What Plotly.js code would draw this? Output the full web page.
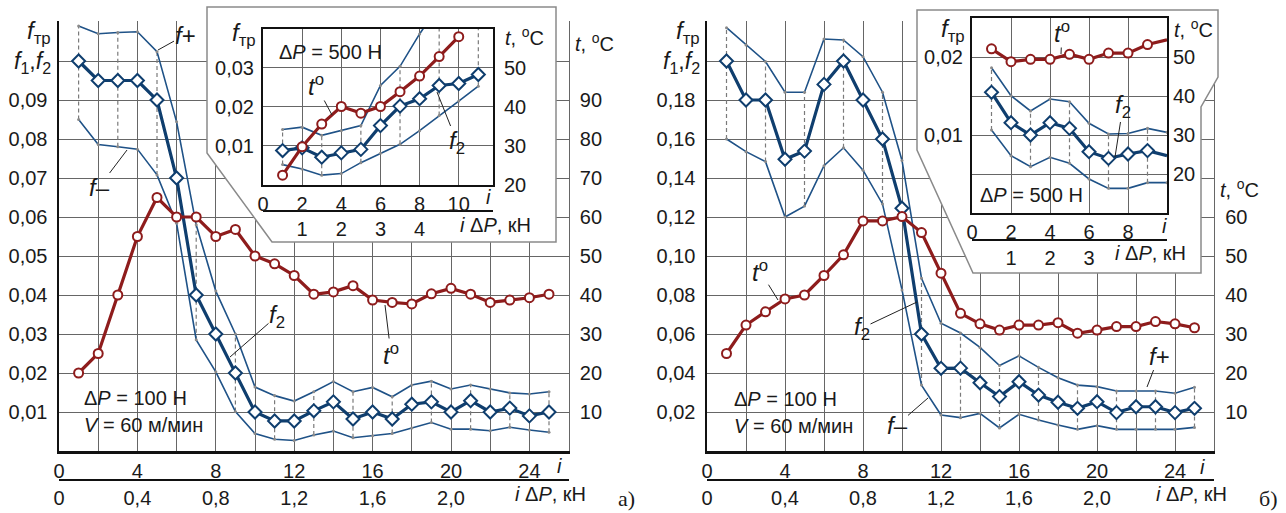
<!DOCTYPE html>
<html><head><meta charset="utf-8">
<script src="https://cdn.plot.ly/plotly-3.0.1.min.js"></script>
<style>html,body{margin:0;padding:0;background:#fff}#chart{width:1286px;height:513px}</style>
</head><body><div id="chart"></div>
<script>
// ---------------- DATA ----------------
// main panels: step number i
const iMain = [1,2,3,4,5,6,7,8,9,10,11,12,13,14,15,16,17,18,19,20,21,22,23,24,25];
// panel а) ΔP = 100 Н
const aF2    = [0.100,0.095,0.095,0.095,0.090,0.070,0.040,0.030,0.020,0.010,0.0077,0.0077,0.0103,0.0126,0.0082,0.0100,0.0082,0.0120,0.0126,0.0100,0.0129,0.0100,0.0110,0.0090,0.0100];
const aFplus = [0.109,0.107,0.1073,0.1075,0.1024,0.0844,0.058,0.041,0.030,0.0164,0.0142,0.0128,0.0152,0.0178,0.0152,0.0163,0.0139,0.0169,0.0179,0.0159,0.0169,0.0159,0.0149,0.0146,0.0152];
const aFminus= [0.085,0.0786,0.078,0.0774,0.0708,0.0584,0.0285,0.0203,0.0101,0.0045,0.0030,0.0027,0.0041,0.0051,0.0034,0.0039,0.0045,0.0059,0.0073,0.0056,0.0056,0.0052,0.0061,0.0054,0.0048];
const aT     = [20,25,40,55,65,60,60,55,56.8,50,48,45,40.2,40.8,42.4,38.7,38.1,37.7,40.3,41.7,40.2,38.1,38.7,39.3,40.2];
// panel б) ΔP = 100 Н
const bF2    = [0.200,0.180,0.180,0.1496,0.1538,0.188,0.200,0.180,0.160,0.1245,0.060,0.0424,0.0425,0.035,0.0279,0.0355,0.0287,0.025,0.0219,0.0253,0.0197,0.0227,0.0227,0.0197,0.0219];
const bFplus = [0.2171,0.2082,0.1997,0.184,0.184,0.2113,0.2108,0.2022,0.184,0.149,0.0886,0.0655,0.0605,0.0531,0.0438,0.0488,0.0429,0.0376,0.0338,0.033,0.0308,0.0308,0.0308,0.0296,0.0327];
const bFminus= [0.160,0.1535,0.1484,0.120,0.1256,0.1463,0.1555,0.144,0.1267,0.0826,0.0338,0.0185,0.0171,0.0193,0.0118,0.0188,0.0159,0.0133,0.0111,0.013,0.0111,0.0111,0.0111,0.0111,0.0121];
const bT     = [25,32.3,35.7,39,40,45,50.3,59,59,60.1,56,45.6,35.3,32.6,31,32.3,32.3,32.9,30.2,31,31.9,31.9,33.2,32.6,31.6];
// inset а) ΔP = 500 Н
const iInA   = [1,2,3,4,5,6,7,8,9,10,11];
const iaF2    = [0.0087,0.0094,0.0070,0.0081,0.0090,0.0151,0.0201,0.0220,0.0254,0.0259,0.0282];
const iaFplus = [0.0141,0.0147,0.0126,0.0138,0.0151,0.0254,0.0303,0.0386,0.046,0.051,0.056];
const iaFminus= [0.0051,0.0040,0.0024,0.0028,0.0056,0.0080,0.0103,0.0138,0.0177,0.0214,0.0252];
const iInAt  = [1,2,3,4,5,6,7,8,9,10];
const iaT     = [22.4,29.7,35.5,40,38.3,40,43.8,47.8,52.8,57.9];
// inset б) ΔP = 500 Н
const iInB   = [1,2,3,4,5,6,7,8,9,10];
const ibF2    = [0.01547,0.01158,0.0100,0.01158,0.01085,0.00786,0.0070,0.00756,0.0080,0.00735];
const ibFplus = [0.01863,0.01504,0.01308,0.01462,0.01427,0.0115,0.01013,0.0102,0.01085,0.01034];
const ibFminus= [0.01064,0.00735,0.00594,0.00714,0.00637,0.00436,0.00316,0.00316,0.00389,0.00389];
const ibT     = [52.1,48.8,49.4,49.4,50.7,49.4,51.0,51.0,53.2,54.4];

// tick labels
const mainXVals = [0,4,8,12,16,20,24];
const mainXText = ["0","4","8","12","16","20","24"];
const kNVals = [0,0.4,0.8,1.2,1.6,2.0];
const kNText = ["0","0,4","0,8","1,2","1,6","2,0"];
const aYVals = [0.01,0.02,0.03,0.04,0.05,0.06,0.07,0.08,0.09];
const aYText = ["0,01","0,02","0,03","0,04","0,05","0,06","0,07","0,08","0,09"];
const bYVals = [0.02,0.04,0.06,0.08,0.10,0.12,0.14,0.16,0.18];
const bYText = ["0,02","0,04","0,06","0,08","0,10","0,12","0,14","0,16","0,18"];
const aTVals = [10,20,30,40,50,60,70,80,90];
const bTVals = [10,20,30,40,50,60];
const insAXVals = [0,2,4,6,8,10];
const insAYVals = [0.01,0.02,0.03];
const insAYText = ["0,01","0,02","0,03"];
const insTVals = [20,30,40,50];
const insAkN = [1,2,3,4];
const insBXVals = [0,2,4,6,8];
const insBYVals = [0.01,0.02];
const insBYText = ["0,01","0,02"];
const insBkN = [1,2,3];

// ---------------- STYLE ----------------
const W = 1286, H = 513;
const PX = x => x / W, PY = y => 1 - y / H;
const GRID = '#666666', BLUE = '#0f3e6e', BLUE2 = '#1f5287', RED = '#8e1c1c', INK = '#1a1a1a';
const FONT = 'Liberation Sans, Arial, sans-serif';

function dashPairs(idx, lo, hi) {
  const xs = [], ys = [];
  idx.forEach((v, k) => {
    if (v % 2 === 1 && lo[k] != null && hi[k] != null) { xs.push(v, v, null); ys.push(lo[k], hi[k], null); }
  });
  return {xs, ys};
}

function panel(xa, ya, ya2, idx, fp, fm, f2, tIdx, t, f2Sizes, tSizes) {
  const d = dashPairs(idx, fm, fp);
  const base = {type: 'scatter', xaxis: xa, hoverinfo: 'skip', showlegend: false, cliponaxis: true};
  return [
    Object.assign({}, base, {yaxis: ya, x: d.xs, y: d.ys, mode: 'lines', line: {color: '#7a7a7a', width: 1.2, dash: '4px,3px'}}),
    Object.assign({}, base, {yaxis: ya, x: idx, y: fp, mode: 'lines+markers', line: {color: BLUE2, width: 1.6}, marker: {size: 3, color: '#8a8a8a', opacity: 1}}),
    Object.assign({}, base, {yaxis: ya, x: idx, y: fm, mode: 'lines+markers', line: {color: BLUE2, width: 1.6}, marker: {size: 3, color: '#8a8a8a', opacity: 1}}),
    Object.assign({}, base, {yaxis: ya, x: idx, y: f2, mode: 'lines+markers', line: {color: BLUE, width: 3.2},
      marker: {symbol: 'diamond', size: f2Sizes || 10, opacity: 1, color: '#fff', line: {color: BLUE, width: 2}}}),
    Object.assign({}, base, {yaxis: ya2, x: tIdx, y: t, mode: 'lines+markers', line: {color: RED, width: 3.2},
      marker: {symbol: 'circle', size: tSizes || 9, opacity: 1, color: '#fff', line: {color: RED, width: 2}}})
  ];
}

const ibF2Sizes = ibF2.map((_, k) => k === ibF2.length - 1 ? 0 : 10);
const ibTSizes = ibT.map((_, k) => k === ibT.length - 1 ? 0 : 9);

const dummy = (xa, ya) => ({type: 'scatter', xaxis: xa, yaxis: ya, x: [0], y: [null], mode: 'markers', hoverinfo: 'skip', showlegend: false});

const traces = [].concat(
  panel('x', 'y', 'y2', iMain, aFplus, aFminus, aF2, iMain, aT),
  [dummy('x2', 'y')],
  panel('x3', 'y3', 'y4', iMain, bFplus, bFminus, bF2, iMain, bT),
  [dummy('x4', 'y3')],
  [dummy('x5', 'y5')],
  panel('x6', 'y6', 'y7', iInA, iaFplus, iaFminus, iaF2, iInAt, iaT),
  [dummy('x7', 'y6')],
  panel('x8', 'y8', 'y9', iInB, ibFplus, ibFminus, ibF2, iInB, ibT, ibF2Sizes, ibTSizes),
  [dummy('x9', 'y8')]
);

const tf = {family: FONT, size: 20, color: INK};
const minorGrid = step => ({tick0: 0, dtick: step, showgrid: true, gridcolor: GRID, gridwidth: 1, ticks: ''});
function mainX(d0, d1, anchor) {
  return {domain: [PX(d0), PX(d1)], range: [0, 26], anchor, tickvals: mainXVals, ticktext: mainXText,
    showgrid: true, gridcolor: GRID, gridwidth: 1, minor: minorGrid(2), showline: true, linecolor: '#111', linewidth: 2.5,
    zeroline: false, ticks: '', tickfont: tf, fixedrange: true};
}
function mainY(top, rng, vals, text, anchor, step) {
  return {domain: [PY(451), PY(top)], range: rng, anchor, tickvals: vals, ticktext: text,
    showgrid: true, gridcolor: GRID, gridwidth: 1, minor: minorGrid(step), showline: true, linecolor: '#111', linewidth: 2.5,
    zeroline: false, ticks: '', tickfont: tf, ticklabelstandoff: 5, fixedrange: true};
}
function tAxis(over, anchor, rng, vals, line, standoff) {
  return {overlaying: over, anchor, side: 'right', range: rng, tickvals: vals, ticktext: vals.map(String),
    showgrid: false, zeroline: false, showline: line, linecolor: GRID, linewidth: 1.2, ticks: '',
    tickfont: tf, ticklabelstandoff: standoff, fixedrange: true};
}
function kNAxis(over, pos, rng, vals, text) {
  return {overlaying: over, anchor: 'free', position: PY(pos), side: 'bottom', range: rng, tickvals: vals, ticktext: text,
    showgrid: false, zeroline: false, showline: true, linecolor: '#111', linewidth: 2.2, ticks: '',
    tickfont: tf, fixedrange: true};
}
function insX(d0, d1, anchor, rng, vals) {
  return {domain: [PX(d0), PX(d1)], range: rng, anchor, tickvals: vals, ticktext: vals.map(String),
    showgrid: true, gridcolor: GRID, gridwidth: 1, showline: true, mirror: true, linecolor: '#111', linewidth: 2,
    zeroline: false, ticks: '', tickfont: tf, fixedrange: true};
}
function insY(b, t, anchor, rng, vals, text, step) {
  const ax = {domain: [PY(b), PY(t)], range: rng, anchor, tickvals: vals, ticktext: text,
    showgrid: true, gridcolor: GRID, gridwidth: 1, showline: true, mirror: true, linecolor: '#111', linewidth: 2,
    zeroline: false, ticks: '', tickfont: tf, ticklabelstandoff: 3, fixedrange: true};
  if (step) ax.minor = minorGrid(step);
  return ax;
}

// annotations
const anns = [];
const BIG = {family: FONT, size: 24, color: INK};
function txt(text, x, y, xanchor, opts) {
  anns.push(Object.assign({text, x: PX(x), y: PY(y), xref: 'paper', yref: 'paper', xanchor: xanchor || 'center',
    yanchor: 'middle', showarrow: false, font: {family: FONT, size: 20, color: INK}}, opts || {}));
}
function lead(text, px, py, tx, ty) {
  anns.push({text, x: PX(px), y: PY(py), xref: 'paper', yref: 'paper', showarrow: true, arrowhead: 0,
    arrowwidth: 1, arrowcolor: '#222', ax: tx - px, ay: ty - py, standoff: 0, borderpad: 0,
    font: BIG});
}
const F = '<i>f</i>';
const FTR = '<i>f</i><sub>тр</sub>';
const F12 = '<i>f</i><sub>1</sub>,<i>f</i><sub>2</sub>';
const TC = '<i>t</i>, <sup>o</sup>C';
const TO = '<i>t</i><sup>o</sup>';
const KN = '<i>i</i> Δ<i>P</i>, кН';
// panel a
txt(FTR, 53, 32, 'right', {font: BIG});
txt(F12, 53, 62, 'right', {font: {family: FONT, size: 23, color: INK}});
txt(TC, 573, 43, 'left');
txt('<i>i</i>', 559, 466);
txt(KN, 588, 494, 'right');
txt('Δ<i>P</i> = 100 Н', 82, 398, 'left');
txt('<i>V</i> = 60 м/мин', 82, 425, 'left');
lead(F + '+', 158, 50, 185, 35);
lead(F + '–', 127, 150, 99, 187);
lead(F + '<sub>2</sub>', 230, 357, 277, 316);
lead(TO, 385, 305, 391, 354);
txt('а)', 626, 498, 'center', {font: {family: 'Liberation Serif, serif', size: 22, color: INK}});
// inset a
txt(FTR, 258, 34, 'right', {font: BIG});
txt(TC, 503, 36, 'left');
txt('<i>i</i>', 488, 197);
txt(KN, 533, 225, 'right');
txt('Δ<i>P</i> = 500 Н', 277, 52, 'left');
lead(TO, 332, 115, 316, 85);
lead(F + '<sub>2</sub>', 437, 92, 457, 142);
// panel b
txt(FTR, 702, 32, 'right', {font: BIG});
txt(F12, 702, 62, 'right', {font: {family: FONT, size: 23, color: INK}});
txt(TC, 1218, 188, 'left');
txt('<i>i</i>', 1202, 467);
txt(KN, 1229, 494, 'right');
txt('Δ<i>P</i> = 100 Н', 732, 399, 'left');
txt('<i>V</i> = 60 м/мин', 732, 426, 'left');
lead(TO, 778, 300, 760, 271);
lead(F + '<sub>2</sub>', 917, 302, 862, 328);
lead(F + '–', 928, 398, 897, 425);
lead(F + '+', 1147, 387, 1159, 356);
txt('б)', 1268, 498, 'center', {font: {family: 'Liberation Serif, serif', size: 22, color: INK}});
// inset b
txt(FTR, 967, 30, 'right', {font: BIG});
txt(TC, 1172, 28, 'left');
txt('<i>i</i>', 1164, 226);
txt(KN, 1188, 253, 'right');
txt('Δ<i>P</i> = 500 Н', 978, 195, 'left');
lead(TO, 1061, 54, 1062, 32);
lead(F + '<sub>2</sub>', 1115, 157, 1123, 106);

const layout = {
  width: W, height: H, autosize: false,
  margin: {l: 0, r: 0, t: 0, b: 0, pad: 0},
  paper_bgcolor: '#ffffff', plot_bgcolor: 'rgba(0,0,0,0)',
  font: {family: FONT, size: 20, color: INK},
  separators: ', ',
  showlegend: false,
  // panel a
  xaxis: mainX(59, 568.6, 'y'),
  yaxis: mainY(451 - 0.1102 * 3900, [0, 0.1102], aYVals, aYText, 'x', 0.01),
  yaxis2: tAxis('y', 'x', [0, 110.2], aTVals, true, 6),
  xaxis2: kNAxis('x', 480, [0, 2.6], kNVals, kNText),
  // panel b
  xaxis3: mainX(707, 1214, 'y3'),
  yaxis3: mainY(451 - 0.2204 * 1950, [0, 0.2204], bYVals, bYText, 'x3', 0.02),
  yaxis4: tAxis('y3', 'x3', [0, 110.2], bTVals, true, 6),
  xaxis4: kNAxis('x3', 480, [0, 2.6], kNVals, kNText),
  // frame layer (full page, pixel ranges)
  xaxis5: {domain: [0, 1], range: [0, W], anchor: 'y5', visible: false, fixedrange: true},
  yaxis5: {domain: [0, 1], range: [H, 0], anchor: 'x5', visible: false, fixedrange: true},
  // inset a
  xaxis6: insX(263, 493, 'y6', [0, 11.75], insAXVals),
  yaxis6: insY(184.5, 28.5, 'x6', [0, 0.04], insAYVals, insAYText),
  yaxis7: tAxis('y6', 'x6', [20, 60], insTVals, false, 10),
  xaxis7: kNAxis('x6', 211, [0, 5.875], insAkN, insAkN.map(String)),
  // inset b
  xaxis8: insX(972, 1167, 'y8', [0, 10], insBXVals),
  yaxis8: insY(213, 18, 'x8', [0, 0.025], insBYVals, insBYText, 0.005),
  yaxis9: tAxis('y8', 'x8', [10, 60], insTVals, false, 5),
  xaxis9: kNAxis('x8', 240, [0, 5], insBkN, insBkN.map(String)),
  shapes: [
    {type: 'path', xref: 'x5', yref: 'y5', layer: 'below', path: 'M207,7 L556,7 L556,242 L272,242 L207,153 Z',
      fillcolor: '#ffffff', line: {color: '#8a8a8a', width: 1.5}},
    {type: 'path', xref: 'x5', yref: 'y5', layer: 'below', path: 'M917,10 L1218,10 L1218,77 L1201,107 L1201,273 L973,273 L917,150 Z',
      fillcolor: '#ffffff', line: {color: '#8a8a8a', width: 1.5}}
  ],
  annotations: anns
};

Plotly.newPlot('chart', traces, layout, {staticPlot: true, displayModeBar: false});
</script>
</body></html>
